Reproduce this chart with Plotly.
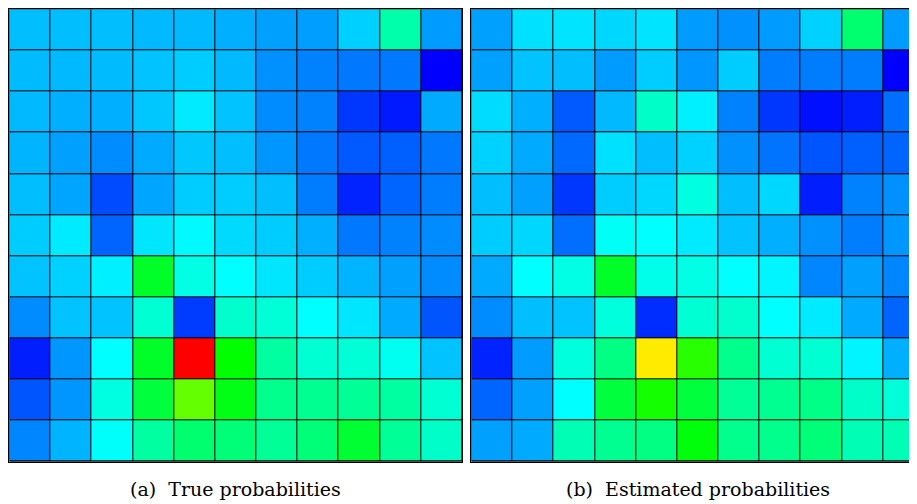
import plotly.graph_objects as go

# Cell values on a shared normalised scale (0 = blue ... 1 = red), rows top to bottom
true_probs = [
    [0.186, 0.186, 0.186, 0.181, 0.181, 0.172, 0.157, 0.155, 0.204, 0.333, 0.152],
    [0.184, 0.181, 0.184, 0.191, 0.201, 0.181, 0.142, 0.127, 0.118, 0.118, 0.000],
    [0.181, 0.172, 0.172, 0.196, 0.230, 0.191, 0.137, 0.127, 0.054, 0.025, 0.167],
    [0.176, 0.157, 0.137, 0.167, 0.196, 0.186, 0.147, 0.118, 0.088, 0.093, 0.118],
    [0.186, 0.162, 0.074, 0.162, 0.201, 0.201, 0.186, 0.123, 0.034, 0.098, 0.123],
    [0.201, 0.230, 0.098, 0.225, 0.245, 0.214, 0.201, 0.172, 0.118, 0.127, 0.137],
    [0.191, 0.206, 0.235, 0.461, 0.275, 0.250, 0.225, 0.201, 0.176, 0.157, 0.137],
    [0.137, 0.191, 0.191, 0.294, 0.059, 0.299, 0.289, 0.250, 0.225, 0.167, 0.083],
    [0.029, 0.147, 0.250, 0.461, 1.000, 0.500, 0.343, 0.294, 0.289, 0.265, 0.191],
    [0.083, 0.147, 0.279, 0.441, 0.598, 0.480, 0.363, 0.358, 0.353, 0.343, 0.294],
    [0.132, 0.176, 0.255, 0.343, 0.392, 0.382, 0.353, 0.382, 0.451, 0.353, 0.304],
]

est_probs = [
    [0.157, 0.221, 0.224, 0.211, 0.224, 0.152, 0.142, 0.152, 0.206, 0.392, 0.152],
    [0.157, 0.191, 0.186, 0.152, 0.201, 0.147, 0.201, 0.123, 0.123, 0.123, 0.000],
    [0.216, 0.172, 0.088, 0.181, 0.304, 0.235, 0.127, 0.054, 0.015, 0.029, 0.108],
    [0.206, 0.167, 0.103, 0.221, 0.186, 0.206, 0.142, 0.113, 0.083, 0.093, 0.098],
    [0.186, 0.157, 0.054, 0.201, 0.211, 0.279, 0.186, 0.211, 0.029, 0.127, 0.142],
    [0.201, 0.211, 0.108, 0.260, 0.250, 0.230, 0.191, 0.172, 0.142, 0.123, 0.147],
    [0.167, 0.250, 0.275, 0.461, 0.270, 0.275, 0.250, 0.240, 0.132, 0.157, 0.132],
    [0.137, 0.186, 0.191, 0.284, 0.044, 0.294, 0.299, 0.250, 0.230, 0.167, 0.098],
    [0.034, 0.152, 0.284, 0.373, 0.770, 0.539, 0.363, 0.294, 0.294, 0.240, 0.172],
    [0.098, 0.157, 0.250, 0.441, 0.520, 0.441, 0.353, 0.358, 0.368, 0.304, 0.289],
    [0.157, 0.167, 0.324, 0.358, 0.373, 0.490, 0.363, 0.363, 0.382, 0.324, 0.324],
]

cols = list(range(11))
rows = list(range(11))
captions = ["(a)  True probabilities", "(b)  Estimated probabilities"]

colorscale = [
    [0.0, "rgb(0,0,255)"],
    [0.25, "rgb(0,255,255)"],
    [0.5, "rgb(0,255,0)"],
    [0.75, "rgb(255,255,0)"],
    [1.0, "rgb(255,0,0)"],
]

# the page body has an 8px margin, so the figure is laid out 8px in from the window corner
OFF = 8
W, H = 917 - OFF, 496
cell = 453 / 11.0
left_a, right_a = 9.3 - OFF, 462.3 - OFF
left_b = 471.3 - OFF
top, bottom = 9.3 - OFF, 461.7 - OFF

fig = go.Figure()
fig.add_trace(go.Heatmap(z=true_probs, x=cols, y=rows, colorscale=colorscale,
                         zmin=0, zmax=1, showscale=False, xgap=1, ygap=1,
                         hoverinfo="skip", xaxis="x", yaxis="y"))
fig.add_trace(go.Heatmap(z=est_probs, x=cols, y=rows, colorscale=colorscale,
                         zmin=0, zmax=1, showscale=False, xgap=1, ygap=1,
                         hoverinfo="skip", xaxis="x2", yaxis="y2"))

ydom = [(H - bottom) / H, (H - top) / H]
axis_common = dict(showgrid=False, zeroline=False, showticklabels=False,
                   ticks="", showline=True, linecolor="black", linewidth=1.2,
                   fixedrange=True)

fig.update_layout(
    width=W, height=H,
    margin=dict(l=0, r=0, t=0, b=0),
    paper_bgcolor="white",
    plot_bgcolor="black",
    xaxis=dict(domain=[left_a / W, right_a / W], range=[-0.5, 10.5], mirror=True, **axis_common),
    yaxis=dict(domain=ydom, range=[10.5, -0.5], mirror=True, **axis_common),
    xaxis2=dict(domain=[left_b / W, 1.0], range=[-0.5, -0.5 + (W - left_b) / cell],
                mirror=True, anchor="y2", **axis_common),
    yaxis2=dict(domain=ydom, range=[10.5, -0.5], mirror=False, anchor="x2", **axis_common),
    showlegend=False,
)

cap_y = (H - (489 - OFF)) / H
for text, cx in [(captions[0], (left_a + right_a) / 2), (captions[1], left_b + 453 / 2)]:
    fig.add_annotation(text=text, x=cx / W, y=cap_y, xref="paper", yref="paper",
                       showarrow=False, xanchor="center", yanchor="middle",
                       font=dict(family="DejaVu Serif", size=19, color="black"))

fig.write_html("out.html", config={"displayModeBar": False})
